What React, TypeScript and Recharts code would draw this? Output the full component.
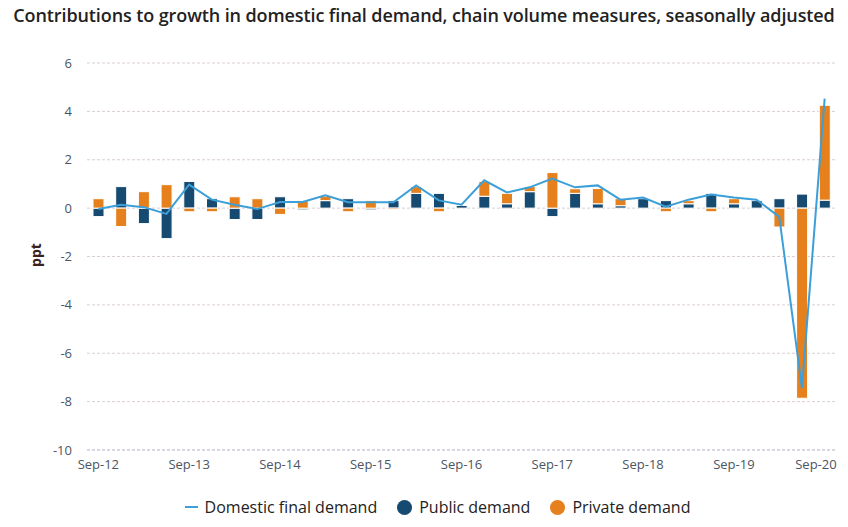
import {
  ComposedChart, Bar, Line, XAxis, YAxis, CartesianGrid, Legend,
} from 'recharts';

const quarters = [
  'Sep-12', 'Dec-12', 'Mar-13', 'Jun-13', 'Sep-13', 'Dec-13', 'Mar-14', 'Jun-14',
  'Sep-14', 'Dec-14', 'Mar-15', 'Jun-15', 'Sep-15', 'Dec-15', 'Mar-16', 'Jun-16',
  'Sep-16', 'Dec-16', 'Mar-17', 'Jun-17', 'Sep-17', 'Dec-17', 'Mar-18', 'Jun-18',
  'Sep-18', 'Dec-18', 'Mar-19', 'Jun-19', 'Sep-19', 'Dec-19', 'Mar-20', 'Jun-20',
  'Sep-20',
];

const publicDemand = [
  -0.35, 0.89, -0.64, -1.26, 1.1, 0.39, -0.47, -0.47,
  0.47, -0.07, 0.31, 0.39, -0.07, 0.31, 0.61, 0.61,
  0.11, 0.49, 0.18, 0.68, -0.35, 0.61, 0.18, 0.1,
  0.39, 0.31, 0.18, 0.61, 0.18, 0.31, 0.39, 0.58,
  0.33,
];

const privateDemand = [
  0.39, -0.76, 0.68, 0.97, -0.15, -0.15, 0.47, 0.39,
  -0.26, 0.3, 0.18, -0.15, 0.31, -0.06, 0.28, -0.15,
  0, 0.61, 0.43, 0.21, 1.47, 0.19, 0.63, 0.29,
  0, -0.15, 0.13, -0.15, 0.21, 0, -0.78, -7.86,
  3.92,
];

const domesticFinalDemand = [
  -0.04, 0.14, 0.04, -0.24, 0.97, 0.35, 0.14, -0.04,
  0.25, 0.25, 0.53, 0.24, 0.24, 0.24, 0.94, 0.32,
  0.14, 1.15, 0.65, 0.86, 1.22, 0.86, 0.94, 0.35,
  0.44, 0.06, 0.35, 0.56, 0.44, 0.35, -0.36, -7.44,
  4.53,
];

const xTicks = ['Sep-12', 'Sep-13', 'Sep-14', 'Sep-15', 'Sep-16', 'Sep-17', 'Sep-18', 'Sep-19', 'Sep-20'];
const yTicks = [-10, -8, -6, -4, -2, 0, 2, 4, 6];

const LINE = '#3c9fd8';
const NAVY = '#174a70';
const ORANGE = '#e5801c';
const FONT = '"Open Sans", "Noto Sans", sans-serif';

const data = quarters.map((q, i) => ({
  q,
  pub: publicDemand[i],
  priv: privateDemand[i],
  dfd: domesticFinalDemand[i],
}));

// last label gets pulled in so it doesn't run off the right edge
function XTick(props: any) {
  const { x, y, payload } = props;
  const last = payload.value === quarters[quarters.length - 1];
  return (
    <text
      x={last ? x + 12 : x}
      y={y}
      dy="0.71em"
      textAnchor={last ? 'end' : 'middle'}
      fill="#4b5563"
      fontSize={13}
      fontFamily={FONT}
    >
      {payload.value}
    </text>
  );
}

function LegendBox() {
  const item = { display: 'flex', alignItems: 'center', gap: 7 } as const;
  const dot = (c: string) => (
    <span style={{ width: 15, height: 15, borderRadius: '50%', background: c, display: 'inline-block' }} />
  );
  return (
    <div style={{
      display: 'flex', justifyContent: 'center', alignItems: 'center', gap: 20,
      height: 30, fontSize: 16, color: '#222', fontFamily: FONT, paddingLeft: 14,
    }}>
      <span style={item}>
        <span style={{ width: 13, height: 2, background: LINE, display: 'inline-block' }} />
        Domestic final demand
      </span>
      <span style={item}>{dot(NAVY)}Public demand</span>
      <span style={item}>{dot(ORANGE)}Private demand</span>
    </div>
  );
}

export default function App() {
  return (
    <div style={{ position: 'absolute', left: 0, top: 0, width: 848, height: 527, background: '#fff', fontFamily: FONT }}>
      <div style={{
        position: 'absolute', top: 3, left: 0, width: 848, textAlign: 'center',
        fontSize: 18, fontWeight: 600, color: '#222', whiteSpace: 'nowrap', letterSpacing: -0.1,
      }}>
        Contributions to growth in domestic final demand, chain volume measures, seasonally adjusted
      </div>
      <ComposedChart
        width={848}
        height={527}
        data={data}
        stackOffset="sign"
        margin={{ top: 63, right: 12, left: 25, bottom: 5 }}
      >
        <CartesianGrid vertical={false} stroke="#dacdd6" strokeDasharray="3 2" />
        <XAxis
          dataKey="q"
          ticks={xTicks}
          interval={0}
          tick={<XTick />}
          tickLine={false}
          tickSize={0}
          tickMargin={10}
          axisLine={{ stroke: '#c4c8d8', strokeDasharray: '3 2' }}
          height={42}
        />
        <YAxis
          domain={[-10, 6]}
          ticks={yTicks}
          width={62}
          tickLine={false}
          tickSize={0}
          tickMargin={15}
          axisLine={false}
          tick={{ fill: '#4b5563', fontSize: 13, fontFamily: FONT }}
          label={{
            content: () => (
              <text x={37} y={255} transform="rotate(-90 37 255)" textAnchor="middle"
                dominantBaseline="middle" fontSize={14} fontWeight={700} fill="#3b2020" fontFamily={FONT}>
                ppt
              </text>
            ),
          }}
        />
        <Legend verticalAlign="bottom" content={<LegendBox />} />
        <Bar dataKey="pub" name="Public demand" stackId="a" fill={NAVY} stroke="#fff" strokeWidth={1}
          barSize={11} isAnimationActive={false} />
        <Bar dataKey="priv" name="Private demand" stackId="a" fill={ORANGE} stroke="#fff" strokeWidth={1}
          barSize={11} isAnimationActive={false} />
        <Line dataKey="dfd" name="Domestic final demand" type="linear" stroke={LINE} strokeWidth={2}
          dot={false} activeDot={false} isAnimationActive={false} />
      </ComposedChart>
    </div>
  );
}
